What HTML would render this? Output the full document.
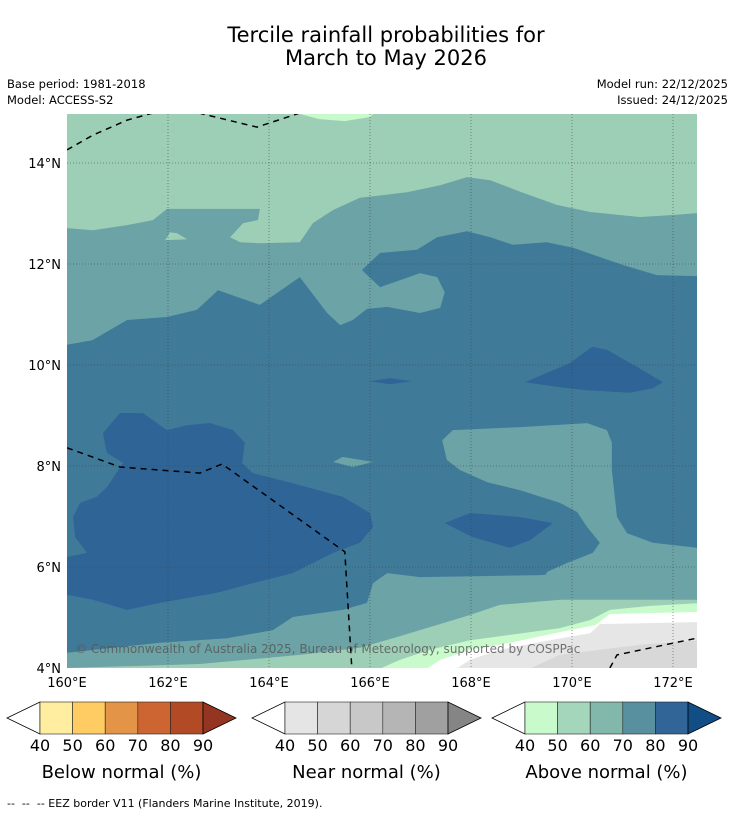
<!DOCTYPE html>
<html><head><meta charset="utf-8">
<style>
body{margin:0;background:#fff;width:736px;height:816px;overflow:hidden;font-family:"Liberation Sans","DejaVu Sans",sans-serif;}
svg text{font-family:"DejaVu Sans","Liberation Sans",sans-serif;}
</style></head>
<body>
<svg id="chart" width="736" height="816" xmlns="http://www.w3.org/2000/svg">
<text x="386" y="42" font-size="21" text-anchor="middle" fill="#000">Tercile rainfall probabilities for</text>
<text x="386" y="65" font-size="21" text-anchor="middle" fill="#000">March to May 2026</text>
<text x="7" y="88" font-size="11.5">Base period: 1981-2018</text>
<text x="7" y="104" font-size="11.5">Model: ACCESS-S2</text>
<text x="728" y="88" font-size="11.5" text-anchor="end">Model run: 22/12/2025</text>
<text x="728" y="104" font-size="11.5" text-anchor="end">Issued: 24/12/2025</text>
<defs><clipPath id="mapclip"><rect x="67" y="114" width="630" height="554"/></clipPath></defs>
<g id="map" clip-path="url(#mapclip)"></g>
<g id="axes"></g>
<g id="bars"></g>
<text x="7" y="807" font-size="11" xml:space="preserve" style="white-space:pre">--  --  -- EEZ border V11 (Flanders Marine Institute, 2019).</text>
</svg>
<script>
const lonTicks=[160,162,164,166,168,170,172];
const latTicks=[4,6,8,10,12,14];
const lonMin=160, lonMax=172.475, latMin=4, latMax=14.97;
const X0=67,X1=697,Y0=668,Y1=114;
function xs(lon){return X0+(lon-lonMin)/(lonMax-lonMin)*(X1-X0);}
function ys(lat){return Y0-(lat-latMin)/(latMax-latMin)*(Y0-Y1);}
const NS="http://www.w3.org/2000/svg";
const tealRegion=[[160,12.71],[160.51,12.67],[161.19,12.77],[161.70,12.87],[161.98,13.09],[163.82,13.09],[163.78,12.87],[163.49,12.81],[163.23,12.53],[163.43,12.43],[163.82,12.41],[164.61,12.43],[164.87,12.81],[165.27,13.07],[165.80,13.31],[166.73,13.42],[167.39,13.56],[167.92,13.72],[168.38,13.66],[169.03,13.41],[169.70,13.17],[170.36,13.03],[171.35,12.93],[172.00,12.97],[172.49,13.01],[172.49,6.00],[170.55,5.90],[169.96,5.64],[169.76,5.35],[168.57,5.25],[167.98,5.05],[166.59,4.63],[165.80,4.40],[164.61,4.26],[162.63,4.08],[160,4.0]];
const greenNotch=[[161.94,12.47],[162.04,12.63],[162.18,12.61],[162.38,12.49]];
const darkRegion=[[160,10.40],[160.50,10.49],[161.19,10.89],[161.98,10.95],[162.57,11.09],[162.99,11.48],[163.82,11.19],[164.61,11.74],[165.15,11.03],[165.41,10.79],[165.66,10.89],[165.94,11.11],[166.34,11.15],[166.99,11.03],[167.39,11.13],[167.48,11.44],[167.33,11.74],[166.99,11.82],[166.20,11.54],[165.84,11.88],[166.20,12.22],[166.93,12.28],[167.33,12.53],[167.92,12.65],[168.38,12.53],[168.83,12.38],[169.50,12.43],[170.02,12.32],[171.01,11.98],[171.68,11.78],[172.49,11.76],[172.49,6.14],[169.37,5.84],[166.99,5.80],[166.34,5.88],[166.06,5.68],[165.94,5.29],[165.46,5.15],[164.47,5.01],[164.08,4.75],[163.17,4.59],[161.84,4.50],[160,4.30]];
const tealRight=[[167.43,8.51],[167.64,8.71],[168.97,8.77],[170.30,8.85],[170.69,8.71],[170.79,8.46],[170.79,7.92],[170.89,6.99],[171.09,6.67],[171.60,6.48],[172.49,6.38],[172.49,5.35],[169.37,5.35],[169.50,5.90],[169.90,6.08],[170.41,6.28],[170.55,6.48],[170.30,6.79],[170.10,7.09],[169.76,7.27],[168.97,7.52],[168.32,7.68],[167.78,7.92],[167.52,8.12]];
const tealSliver=[[165.27,8.08],[165.46,8.18],[166.06,8.08],[165.66,7.98]];
const darkestLeft=[[160.71,8.65],[161.05,9.05],[161.50,9.05],[161.98,8.71],[162.38,8.81],[162.83,8.85],[163.29,8.71],[163.52,8.46],[163.47,8.06],[163.68,7.86],[164.47,7.66],[165.46,7.39],[166.00,7.07],[166.06,6.79],[165.80,6.48],[165.27,6.28],[164.47,5.88],[163.68,5.68],[162.97,5.49],[161.84,5.29],[161.19,5.15],[160.51,5.35],[160,5.45],[160,6.20],[160.40,6.28],[160.16,6.59],[160.12,6.99],[160.26,7.27],[160.59,7.39],[160.79,7.58],[160.99,7.88],[161.11,8.06],[160.79,8.26]];
const darkestRight=[[169.07,9.66],[169.96,10.04],[170.40,10.36],[170.69,10.30],[171.29,9.96],[171.80,9.66],[171.60,9.54],[171.15,9.45],[170.30,9.50],[169.76,9.56]];
const darkestMid=[[167.48,6.87],[167.98,7.07],[168.97,6.99],[169.62,6.87],[169.17,6.53],[168.77,6.38],[168.04,6.59]];
const darkestSliver=[[166.0,9.68],[166.40,9.74],[166.83,9.68],[166.40,9.62]];
const mintBand=[[172.6,5.29],[171.54,5.23],[170.75,5.15],[170.36,4.95],[169.76,4.79],[168.57,4.63],[167.98,4.55],[167.19,4.36],[166.59,4.16],[166.0,3.9],[172.6,3.9]];
const whiteBand=[[172.6,5.11],[170.75,5.07],[170.46,4.85],[169.76,4.71],[168.57,4.46],[167.98,4.36],[167.39,4.16],[166.99,3.9],[172.6,3.9]];
const grayBand1=[[172.6,4.91],[170.55,4.87],[170.36,4.69],[169.56,4.55],[168.57,4.36],[167.98,4.16],[167.58,3.9],[172.6,3.9]];
const grayBand2=[[172.6,4.55],[171.35,4.46],[170.55,4.36],[169.76,4.26],[168.97,3.9],[172.6,3.9]];
const topMint=[[164.61,15.1],[164.61,14.97],[165.0,14.87],[165.5,14.83],[166.0,14.91],[166.2,15.1]];
const eezLines=[[[160,14.26],[160.51,14.55],[161.19,14.85],[161.70,14.99],[161.9,15.05]],[[162.4,15.05],[162.69,14.97],[163.76,14.71],[164.61,14.99]],[[160,8.36],[161.05,7.98],[162.63,7.86],[163.07,8.04],[165.50,6.30],[165.64,4.0]],[[170.75,4.0],[170.89,4.26],[172.47,4.59]]];
const map=document.getElementById('map');
function pts(a){return a.map(p=>xs(p[0]).toFixed(1)+','+ys(p[1]).toFixed(1)).join(' ');}
function poly(a,fill,name){const e=document.createElementNS(NS,'polygon');e.setAttribute('points',pts(a));e.setAttribute('fill',fill);


map.appendChild(e);}
const bg=document.createElementNS(NS,'rect');bg.setAttribute('x',X0);bg.setAttribute('y',Y1);bg.setAttribute('width',X1-X0);bg.setAttribute('height',Y0-Y1);bg.setAttribute('fill','#9dcfb7');


map.appendChild(bg);
poly(topMint,'#c8facc','above-40-top-strip');
poly(tealRegion,'#6ca3a6','above-60-region');
poly(greenNotch,'#9dcfb7','above-50-notch');
poly(darkRegion,'#3f7a99','above-70-region');
poly(tealRight,'#6ca3a6','above-60-east-region');
poly(tealSliver,'#6ca3a6','above-60-sliver');
poly(darkestLeft,'#2f6497','above-80-west-region');
poly(darkestRight,'#2f6497','above-80-northeast-region');
poly(darkestMid,'#2f6497','above-80-central-region');
poly(darkestSliver,'#2f6497','above-80-sliver');
poly(mintBand,'#c8facc','above-40-band');
poly(whiteBand,'#ffffff','no-signal-band');
poly(grayBand1,'#e6e6e6','near-40-band');
poly(grayBand2,'#d8d8d8','near-50-band');
lonTicks.slice(1).forEach(l=>{const e=document.createElementNS(NS,'line');e.setAttribute('x1',xs(l));e.setAttribute('x2',xs(l));e.setAttribute('y1',Y1);e.setAttribute('y2',Y0);e.setAttribute('stroke','#444');e.setAttribute('stroke-width','0.8');e.setAttribute('stroke-dasharray','1,2');e.setAttribute('opacity','0.7');


map.appendChild(e);});
latTicks.slice(1).forEach(l=>{const e=document.createElementNS(NS,'line');e.setAttribute('y1',ys(l));e.setAttribute('y2',ys(l));e.setAttribute('x1',X0);e.setAttribute('x2',X1);e.setAttribute('stroke','#444');e.setAttribute('stroke-width','0.8');e.setAttribute('stroke-dasharray','1,2');e.setAttribute('opacity','0.7');


map.appendChild(e);});
eezLines.forEach(a=>{const e=document.createElementNS(NS,'polyline');e.setAttribute('points',pts(a));e.setAttribute('fill','none');e.setAttribute('stroke','#000');e.setAttribute('stroke-width','1.5');e.setAttribute('stroke-dasharray','6,5');


map.appendChild(e);});
const cp=document.createElementNS(NS,'text');cp.setAttribute('x',75);cp.setAttribute('y',653);cp.setAttribute('font-size','12');cp.setAttribute('fill','#555');cp.setAttribute('opacity','0.8');cp.textContent='© Commonwealth of Australia 2025, Bureau of Meteorology, supported by COSPPac';


map.appendChild(cp);
const axes=document.getElementById('axes');
lonTicks.forEach(l=>{const t=document.createElementNS(NS,'text');t.setAttribute('x',xs(l));t.setAttribute('y',687);t.setAttribute('font-size','13');t.setAttribute('text-anchor','middle');t.textContent=l+'°E';


axes.appendChild(t);});
latTicks.forEach(l=>{const t=document.createElementNS(NS,'text');t.setAttribute('x',61);t.setAttribute('y',ys(l)+5);t.setAttribute('font-size','13');t.setAttribute('text-anchor','end');t.textContent=l+'°N';


axes.appendChild(t);});
const barLabels=['40','50','60','70','80','90'];
const belowColors=['#ffeda0','#fecc62','#e39446','#cc6532','#b24a26','#943521'];
const nearColors=['#e5e5e5','#d6d6d6','#c8c8c8','#b5b5b5','#a0a0a0','#858585'];
const aboveColors=['#c8facc','#a3d6bb','#82b8ab','#5990a0','#316597','#124e86'];
const barTitles=['Below normal (%)','Near normal (%)','Above normal (%)'];
const bars=document.getElementById('bars');
function colorbar(x0,cols,title,name){const w=163/5,yT=702,yB=734,ym=718;
const l=document.createElementNS(NS,'polygon');l.setAttribute('points',`${x0},${yT} ${x0},${yB} ${x0-33},${ym}`);l.setAttribute('fill','#fff');l.setAttribute('stroke','#000');l.setAttribute('stroke-width','0.8');


bars.appendChild(l);
for(let i=0;i<5;i++){const r=document.createElementNS(NS,'rect');r.setAttribute('x',x0+i*w);r.setAttribute('y',yT);r.setAttribute('width',w);r.setAttribute('height',yB-yT);r.setAttribute('fill',cols[i]);r.setAttribute('stroke','#222');r.setAttribute('stroke-width','0.6');


bars.appendChild(r);}
const x1=x0+163;const tr=document.createElementNS(NS,'polygon');tr.setAttribute('points',`${x1},${yT} ${x1},${yB} ${x1+33},${ym}`);tr.setAttribute('fill',cols[5]);tr.setAttribute('stroke','#000');tr.setAttribute('stroke-width','0.8');


bars.appendChild(tr);
barLabels.forEach((s,i)=>{const t=document.createElementNS(NS,'text');t.setAttribute('x',x0+i*w);t.setAttribute('y',751);t.setAttribute('font-size','16');t.setAttribute('text-anchor','middle');t.textContent=s;


bars.appendChild(t);});
const tt=document.createElementNS(NS,'text');tt.setAttribute('x',x0+81.5);tt.setAttribute('y',778);tt.setAttribute('font-size','18');tt.setAttribute('text-anchor','middle');tt.textContent=title;


bars.appendChild(tt);}
colorbar(40,belowColors,barTitles[0],'below-normal-colorbar');
colorbar(285,nearColors,barTitles[1],'near-normal-colorbar');
colorbar(525,aboveColors,barTitles[2],'above-normal-colorbar');
</script>
</body></html>
